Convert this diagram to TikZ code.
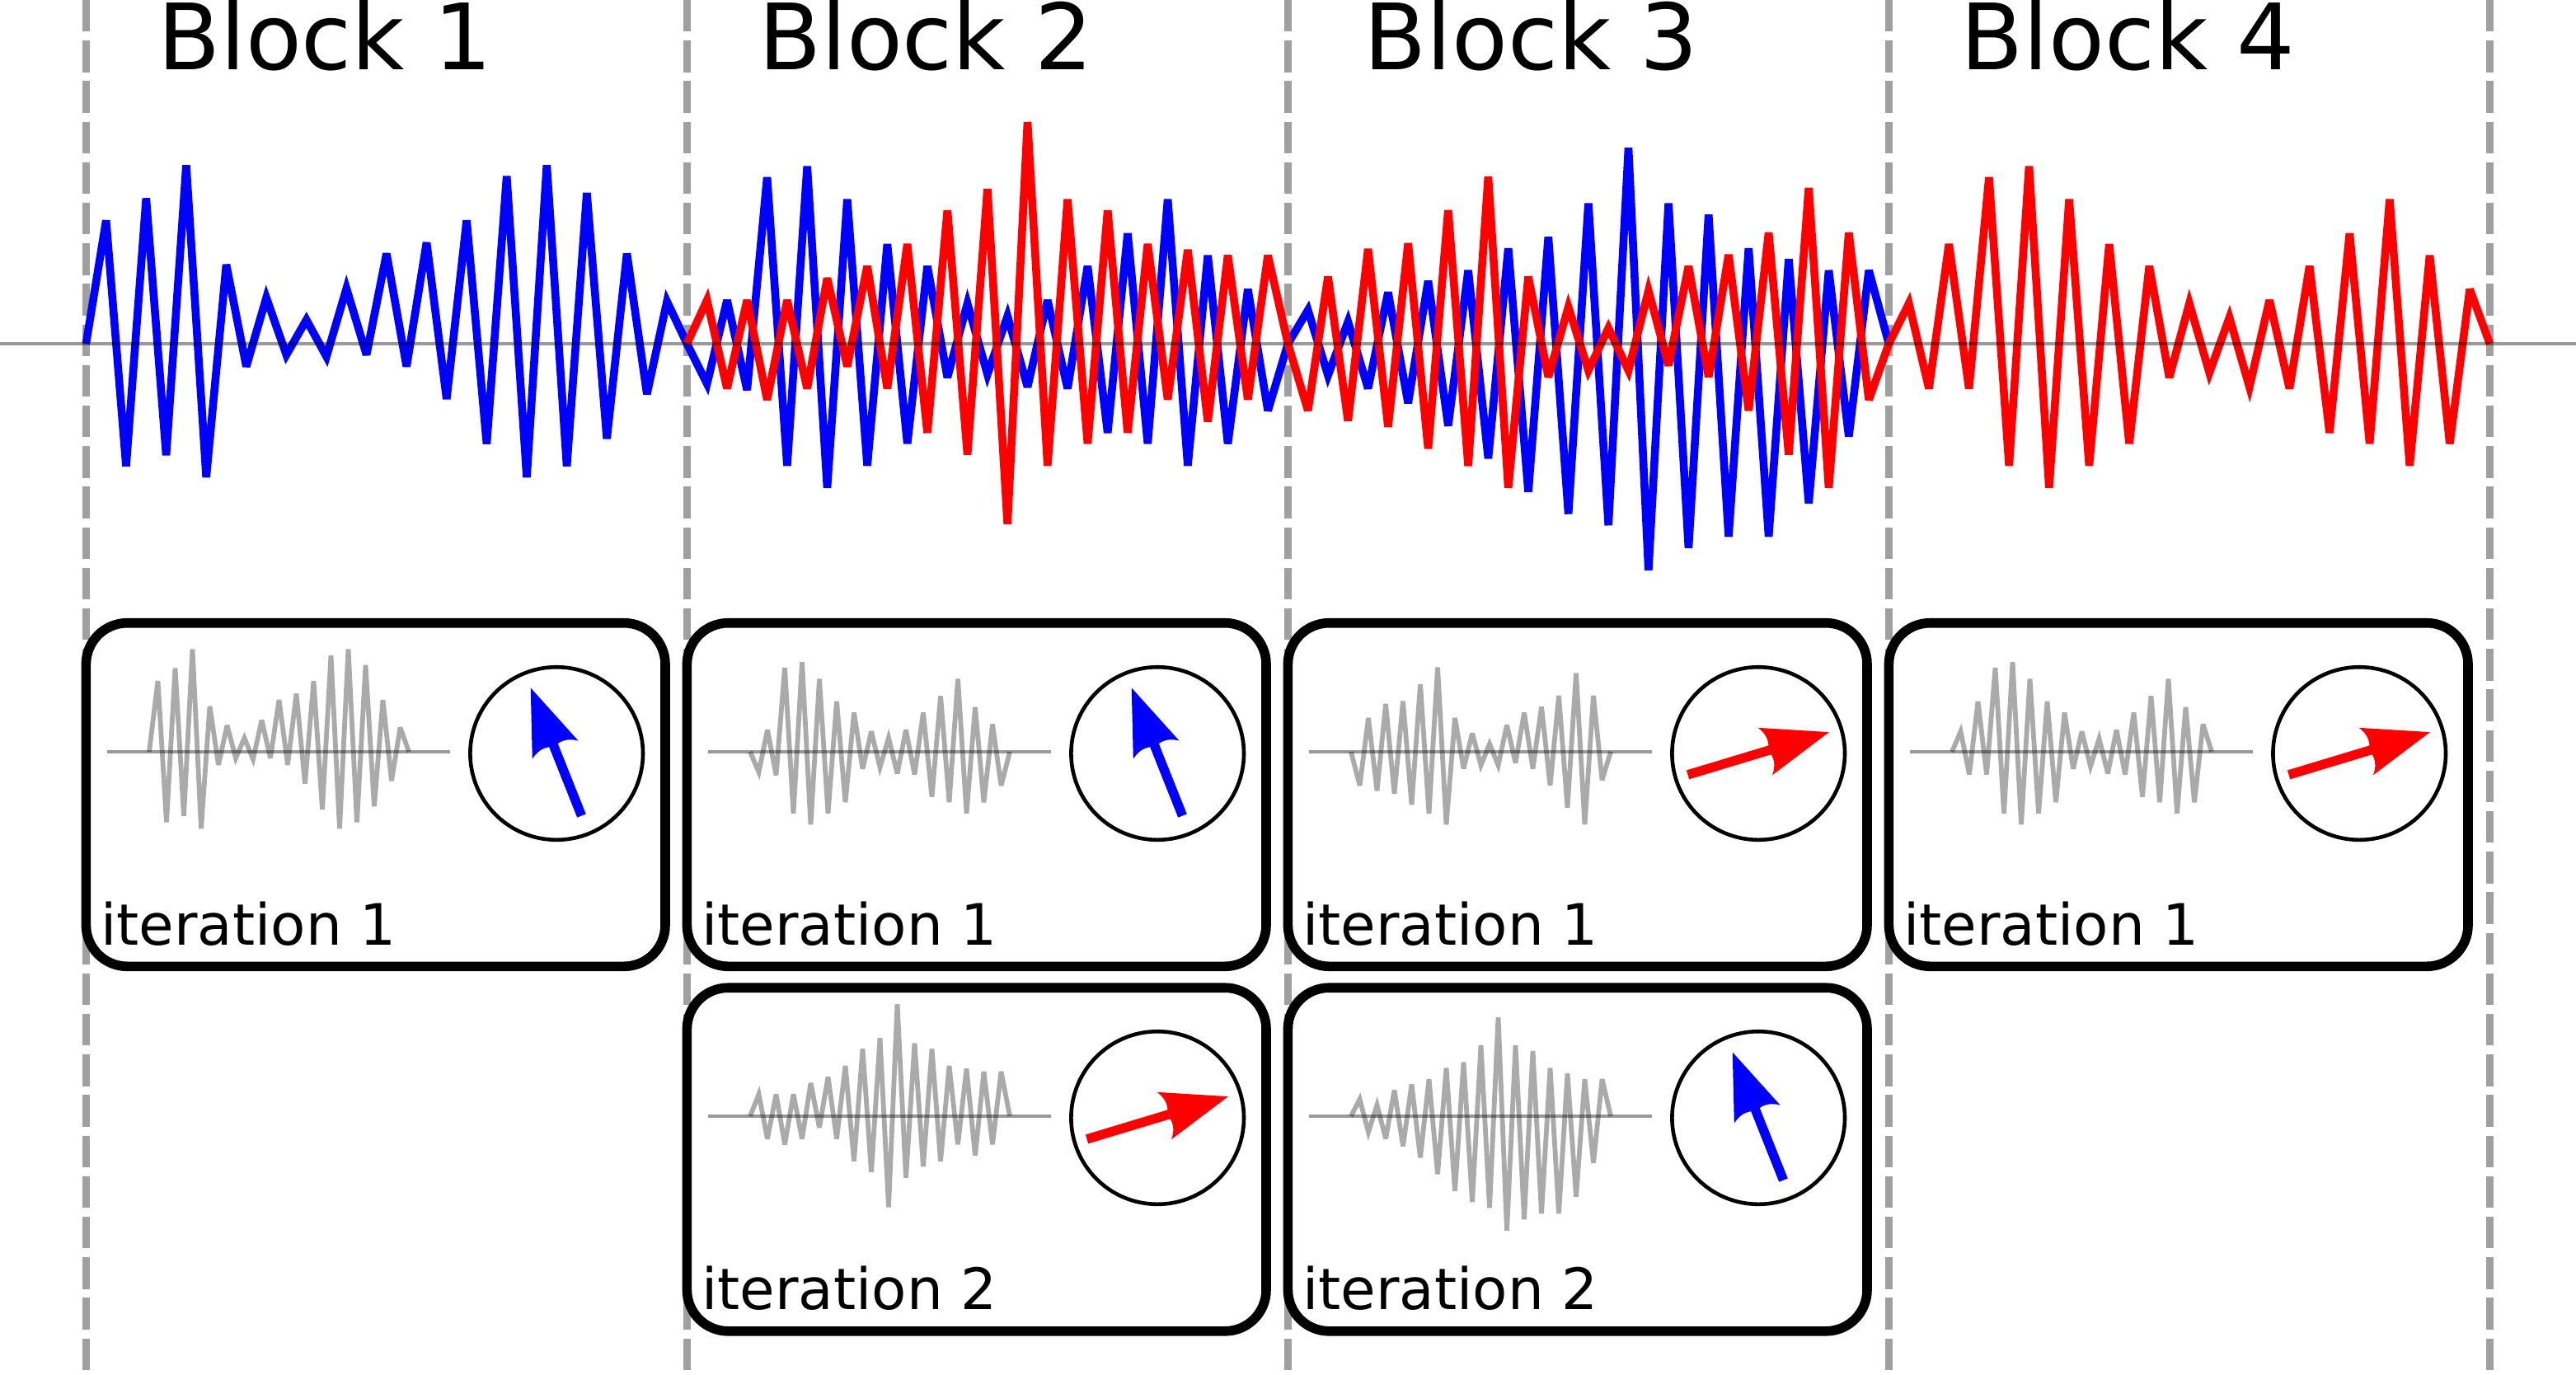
\documentclass[tikz,border=0pt]{standalone}
\usepackage{fontspec}
\setmainfont{DejaVu Sans}
\definecolor{sepgray}{RGB}{160,160,160}
\definecolor{minigray}{RGB}{170,170,170}
\newcommand\dataA{74.8,-74.3,88.2,-67.6,108.3,-81.0,48.0,-13.8,27.9,-6.7,14.5,-7.8,33.5,-6.7,54.7,-13.8,61.4,-33.5,74.8,-60.7,101.6,-81.0,108.3,-74.3,91.5,-57.6,54.7,-30.6,25.7,0}
\newcommand\dataBb{-24.3,26.4,-28.1,101.0,-74.0,107.7,-87.4,87.6,-74.0,60.5,-60.6,47.1,-20.5,24.5,-18.6,16.8,-26.2,26.4,-27.2,47.1,-54.0,67.0,-60.6,87.6,-74.0,53.6,-60.6,33.1,-40.6,0}
\newcommand\dataBr{26.4,-27.2,26.4,-33.9,26.4,-27.2,39.8,-13.8,47.1,-27.2,60.5,-54.0,80.9,-67.3,93.9,-109.4,134.5,-74.0,87.6,-60.6,80.9,-54.0,60.5,-33.9,57.0,-47.3,53.6,-33.9,53.6,0}
\newcommand\dataCb{20.4,-19.2,13.4,-27.1,31.2,-36.0,38.1,-49.8,44.5,-69.6,57.9,-89.9,64.8,-103.2,85.2,-110.1,118.8,-137.4,85.2,-123.9,78.3,-117.0,57.9,-117.0,51.4,-96.8,44.5,-56.3,44.5,0}
\newcommand\dataCr{-40.5,40.7,-46.8,57.5,-50.4,60.9,-63.6,81.0,-74.1,101.4,-87.4,40.7,-20.2,22.3,-16.2,9.5,-16.2,32.2,-13.2,47.0,-20.2,54.0,-40.5,67.4,-67.2,94.5,-87.4,67.4,-34.0,0}
\newcommand\dataDr{24.5,-27.2,60.5,-27.2,101.0,-74.0,107.7,-87.4,87.6,-74.0,60.5,-60.6,47.1,-20.5,24.5,-17.6,15.9,-26.2,26.4,-27.2,47.1,-54.0,67.0,-60.6,87.6,-74.0,53.6,-60.6,33.1,0}
\newcommand\needle[2]{%
 \fill[#2] (-#1,-2.85) -- ({#1-37.5},-2.85) .. controls ({#1-36.5},-7) and ({#1-37.5},-11) .. ({#1-40.5},-15) -- (#1,0) -- ({#1-40.5},15) .. controls ({#1-37.5},11) and ({#1-36.5},7) .. ({#1-37.5},2.85) -- (-#1,2.85) -- cycle;}
\newcommand\miniwave[5]{% x, y, yscale, data
 \begin{scope}[shift={(#1,#2)},x=5.25pt,y=#3pt]
 \draw[minisig] (0,0) \foreach \v [count=\i from 1] in #4 {-- (\i,\v)};
 \end{scope}
 \draw[minizero] (#1-25.5,#2) -- (#1+182.7,#2);}
\begin{document}
\begin{tikzpicture}[x=1pt,y=-1pt,
  sep/.style={draw=sepgray,line width=4.8pt,dash pattern=on 19.2pt off 5.4pt},
  zeroline/.style={draw=black,draw opacity=0.4,line width=1.8pt},
  sig/.style={line width=4.8pt,miter limit=4},
  minisig/.style={draw=minigray,line width=2.9pt,miter limit=4},
  minizero/.style={draw=black,draw opacity=0.4,line width=1.6pt},
  itbox/.style={draw,line width=5.8pt,rounded corners=25pt,minimum width=351.3pt,minimum height=208.3pt,inner sep=0pt},
  dial/.style={draw,circle,line width=2.3pt,minimum size=104.8pt,inner sep=0pt},
  blocktitle/.style={font=\fontsize{55.5}{60}\selectfont,anchor=base west,inner sep=0pt},
  itlabel/.style={font=\fontsize{34.6}{40}\selectfont,anchor=base west,inner sep=0pt}]
\useasboundingbox (0,0) rectangle (1562.5,833.5);
% separators
\foreach \x in {52.2,416.7,781.2,1145.7,1510.2} \draw[sep] (\x,0) -- (\x,833.5);
% main waves
\begin{scope}[shift={(52.2,208.5)},x=12.15pt,y=1pt]
 \draw[sig,blue] (0,0) \foreach \v [count=\i from 1] in \dataA {-- (\i,\v)}
   \foreach \v [count=\i from 31] in \dataBb {-- (\i,\v)}
   \foreach \v [count=\i from 61] in \dataCb {-- (\i,\v)};
 \draw[sig,red] (30,0) \foreach \v [count=\i from 31] in \dataBr {-- (\i,\v)}
   \foreach \v [count=\i from 61] in \dataCr {-- (\i,\v)}
   \foreach \v [count=\i from 91] in \dataDr {-- (\i,\v)};
\end{scope}
\draw[zeroline] (0,208.5) -- (1562.5,208.5);
% titles
\node[blocktitle] (t1) at (95.3,42) {Block 1};
\node[blocktitle] (t2) at (459.8,42) {Block 2};
\node[blocktitle] (t3) at (827,42) {Block 3};
\node[blocktitle] (t4) at (1189,42) {Block 4};
% boxes
\node[itbox] (bx1) at (227.85,482) {};
\node[itbox] (bx2) at (592.35,482) {};
\node[itbox] (bx3) at (956.85,482) {};
\node[itbox] (bx4) at (1321.35,482) {};
\node[itbox] (bx5) at (592.35,703.25) {};
\node[itbox] (bx6) at (956.85,703.25) {};
% mini waves
\miniwave{90.5}{456}{0.575}{\dataA}{}
\miniwave{455.0}{456}{0.505}{\dataBb}{}
\miniwave{819.5}{456}{0.505}{\dataCr}{}
\miniwave{1184.0}{456}{0.505}{\dataDr}{}
\miniwave{455.0}{677}{0.505}{\dataBr}{}
\miniwave{819.5}{677}{0.505}{\dataCb}{}
% dials
\node[dial] (d1) at (337.6,457) {};
\node[dial] (d2) at (702.1,457) {};
\node[dial] (d3) at (1066.6,457) {};
\node[dial] (d4) at (1431.1,457) {};
\node[dial] (d5) at (702.1,678) {};
\node[dial] (d6) at (1066.6,678) {};
\begin{scope}[shift={(d1.center)},shift={(-0.3,-1)},rotate=111.7]\needle{41.75}{blue}\end{scope}
\begin{scope}[shift={(d2.center)},shift={(-0.3,-1)},rotate=111.7]\needle{41.75}{blue}\end{scope}
\begin{scope}[shift={(d6.center)},shift={(-0.3,-1)},rotate=111.7]\needle{41.75}{blue}\end{scope}
\begin{scope}[shift={(d3.center)},rotate=16.8]\needle{44.75}{red}\end{scope}
\begin{scope}[shift={(d4.center)},rotate=16.8]\needle{44.75}{red}\end{scope}
\begin{scope}[shift={(d5.center)},rotate=16.8]\needle{44.75}{red}\end{scope}
% labels
\node[itlabel] (l1) at (61.1,573.2) {iteration 1};
\node[itlabel] (l2) at (425.6,573.2) {iteration 1};
\node[itlabel] (l3) at (790.1,573.2) {iteration 1};
\node[itlabel] (l4) at (1154.6,573.2) {iteration 1};
\node[itlabel] (l5) at (425.6,794.4) {iteration 2};
\node[itlabel] (l6) at (790.1,794.4) {iteration 2};
\end{tikzpicture}
\end{document}
